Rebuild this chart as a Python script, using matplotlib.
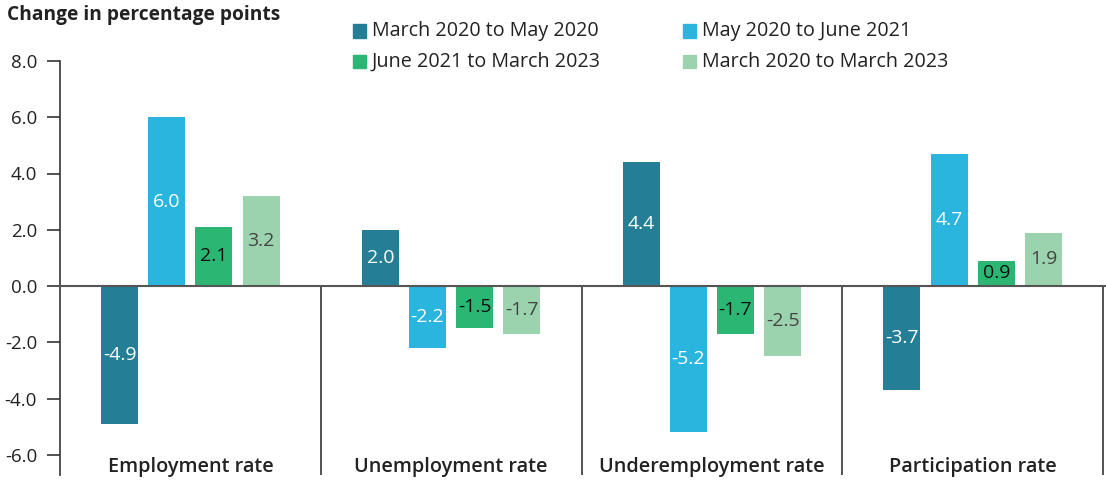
import matplotlib
matplotlib.use("Agg")
import matplotlib.pyplot as plt
from matplotlib.patches import Rectangle
import numpy as np

# Labour market indicators and the change over each period (percentage points)
categories = ["Employment rate", "Unemployment rate", "Underemployment rate", "Participation rate"]
series_names = ["March 2020 to May 2020", "May 2020 to June 2021",
                "June 2021 to March 2023", "March 2020 to March 2023"]
mar20_to_may20 = [-4.9, 2.0, 4.4, -3.7]
may20_to_jun21 = [6.0, -2.2, -5.2, 4.7]
jun21_to_mar23 = [2.1, -1.5, -1.7, 0.9]
mar20_to_mar23 = [3.2, -1.7, -2.5, 1.9]
ytick_values = [8.0, 6.0, 4.0, 2.0, 0.0, -2.0, -4.0, -6.0]

series = [mar20_to_may20, may20_to_jun21, jun21_to_mar23, mar20_to_mar23]
bar_colors = ["#237e96", "#29b5de", "#2bb673", "#9bd3ae"]
label_colors = ["#ffffff", "#ffffff", "#111111", "#444444"]

plt.rcParams["font.family"] = ["Open Sans", "DejaVu Sans"]

W, H = 1106, 482
fig = plt.figure(figsize=(W / 100, H / 100), dpi=100)


def fx(px):
    return px / W


def fy(py):
    return 1 - py / H


ax = fig.add_axes([fx(60), fy(475), fx(1103 - 60), (475 - 61) / H])
ax.set_xlim(-0.5, 3.5)
ax.set_ylim(-6.72, 8.0)

x = np.arange(len(categories))
step = 0.181
width = 0.142
offsets = (np.arange(len(series)) - 1.5) * step

for vals, off, col, lcol in zip(series, offsets, bar_colors, label_colors):
    bars = ax.bar(x + off, vals, width=width, color=col, zorder=2)
    for b, v in zip(bars, vals):
        ax.text(b.get_x() + b.get_width() / 2, v / 2, f"{v:.1f}",
                ha="center", va="center", fontsize=14, color=lcol, zorder=3)

# zero line and group separators
ax.axhline(0, xmin=0, xmax=1.003, color="#555555", lw=1.5, zorder=4, clip_on=False)
ax.vlines([0.5, 1.5, 2.5, 3.5], -6.72, 0, color="#333333", lw=1.2, zorder=1, clip_on=False)

for i, cat in enumerate(categories):
    ax.text(i, -6.44, cat, ha="center", va="center", fontsize=14.3,
            fontweight="semibold", color="#222222")

for s in ["top", "right", "bottom"]:
    ax.spines[s].set_visible(False)
ax.spines["left"].set_color("#333333")
ax.spines["left"].set_linewidth(1.2)
ax.set_xticks([])
ax.set_yticks(ytick_values)
ax.set_yticklabels([f"{v:.1f}" for v in ytick_values])
ax.tick_params(axis="y", direction="out", length=9.5, width=1.2, color="#333333",
               labelsize=13.5, labelcolor="#222222", pad=7)

fig.text(fx(7), fy(15), "Change in percentage points", ha="left", va="center",
         fontsize=13.8, fontweight="bold", color="#222222")

# legend, two columns
legend_pos = [(353, 31), (683, 31), (353, 62), (683, 62)]
for (lx, ly), name, col in zip(legend_pos, series_names, bar_colors):
    fig.patches.append(Rectangle((fx(lx), fy(ly + 6.5)), 13 / W, 13 / H,
                                 transform=fig.transFigure, color=col, figure=fig))
    fig.text(fx(lx + 19), fy(ly), name, ha="left", va="center",
             fontsize=14.2, color="#222222")

fig.savefig("out.png", dpi=100)
